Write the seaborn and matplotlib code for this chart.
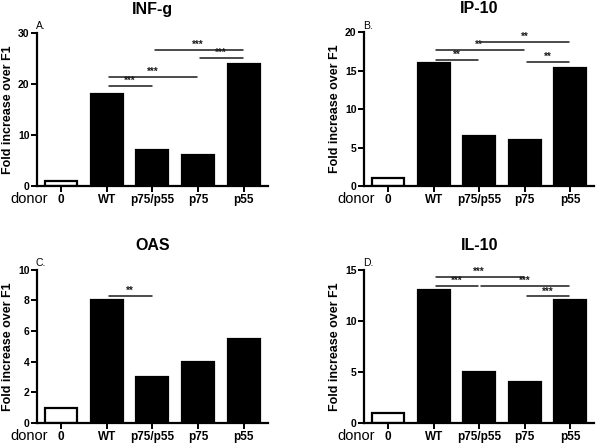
import matplotlib
matplotlib.use("Agg")
import matplotlib.pyplot as plt
import seaborn as sns
import pandas as pd

sns.set_theme(style="ticks")
plt.rcParams['font.family'] = ['Liberation Sans', 'DejaVu Sans']

categories = ["0", "WT", "p75/p55", "p75", "p55"]

infg_vals = [1, 18, 7, 6, 24]
ip10_vals = [1, 16, 6.5, 6, 15.4]
oas_vals = [1, 8, 3, 4, 5.5]
il10_vals = [1, 13, 5, 4, 12]

titles = ["INF-g", "IP-10", "OAS", "IL-10"]
letters = ["A.", "B.", "C.", "D."]
ymaxes = [30, 20, 10, 15]
ysteps = [10, 5, 2, 5]

# significance comparisons: (i, j, height, label)
infg_sig = [(1, 2, 19.6, "***"), (1, 3, 21.4, "***"), (2, 4, 26.7, "***"), (3, 4, 25.1, "***")]
ip10_sig = [(1, 2, 16.4, "**"), (1, 3, 17.7, "**"), (2, 4, 18.7, "**"), (3, 4, 16.1, "**")]
oas_sig = [(1, 2, 8.3, "**")]
il10_sig = [(1, 2, 13.4, "***"), (1, 3, 14.3, "***"), (2, 4, 13.4, "***"), (3, 4, 12.4, "***")]

all_vals = [infg_vals, ip10_vals, oas_vals, il10_vals]
all_sigs = [infg_sig, ip10_sig, oas_sig, il10_sig]

positions = [
    [0.0615, 0.583, 0.445 - 0.0615, 0.926 - 0.583],
    [0.605, 0.583, 0.987 - 0.605, 0.928 - 0.583],
    [0.0615, 0.0516, 0.445 - 0.0615, 0.395 - 0.0516],
    [0.605, 0.0516, 0.987 - 0.605, 0.395 - 0.0516],
]

fig = plt.figure(figsize=(6.02, 4.46), dpi=100)
palette = {c: ("white" if c == "0" else "black") for c in categories}

for k in range(4):
    ax = fig.add_axes(positions[k])
    df = pd.DataFrame({"cat": categories, "val": all_vals[k]})
    sns.barplot(data=df, x="cat", y="val", hue="cat", palette=palette,
                edgecolor="black", linewidth=1.6, width=0.7, legend=False,
                ax=ax, saturation=1)
    ax.set_xlim(-0.53, 4.53)
    ax.set_ylim(0, ymaxes[k])
    ax.set_yticks(list(range(0, ymaxes[k] + 1, ysteps[k])))
    sns.despine(ax=ax)
    for s in ["left", "bottom"]:
        ax.spines[s].set_linewidth(1.6)
        ax.spines[s].set_color("black")
    ax.tick_params(axis="both", which="major", length=4, width=1.4, color="black", pad=1.5)
    ax.tick_params(axis="x", labelsize=8.5)
    ax.tick_params(axis="y", labelsize=7.5)
    for lab in ax.get_xticklabels() + ax.get_yticklabels():
        lab.set_fontweight("bold")
        lab.set_color("black")
    ax.set_xlabel("")
    ax.set_ylabel("Fold increase over F1", fontsize=9, fontweight="bold", color="black", labelpad=3)
    ax.set_title(titles[k], fontsize=11.5, fontweight="bold", pad=14, color="black")
    ax.text(-0.005, 1.01, letters[k], transform=ax.transAxes, fontsize=7.5,
            ha="left", va="bottom", color="black")
    ax.text(0.045, -0.112, "donor", transform=ax.transAxes, fontsize=10.5,
            ha="right", va="baseline", color="black")
    for (i, j, h, lab) in all_sigs[k]:
        ax.plot([i + 0.05, j - 0.02], [h, h], color="#1a1a1a", lw=1.1, clip_on=False)
        ax.text((i + j) / 2, h, lab, ha="center", va="bottom", fontsize=7,
                color="#1a1a1a", fontweight="bold")

fig.savefig("out.png", dpi=100)
